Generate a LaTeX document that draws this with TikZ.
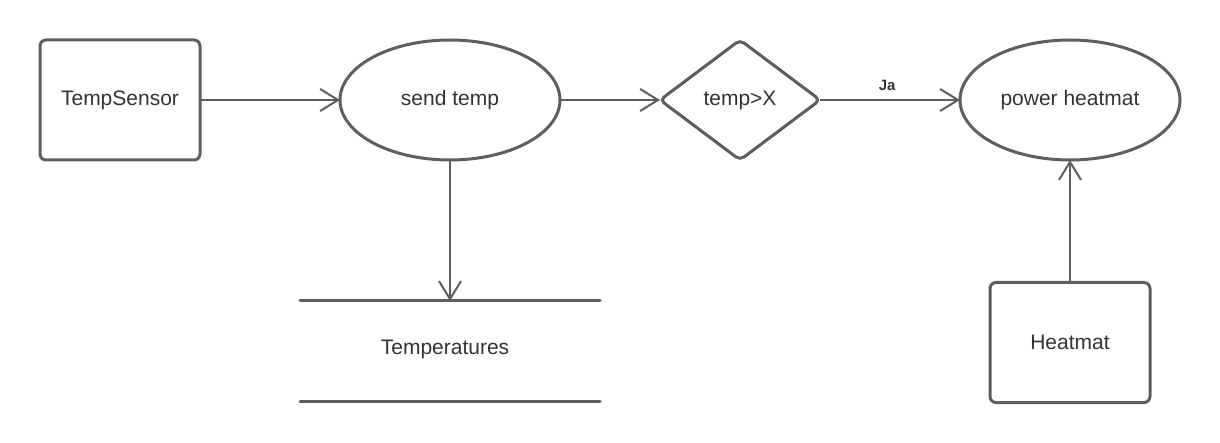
\documentclass[tikz,border=0pt]{standalone}
\usepackage{fontspec}
\setmainfont{Liberation Sans}
\usetikzlibrary{shapes.geometric,arrows.meta}
\definecolor{edge}{HTML}{5E5E5E}
\definecolor{txt}{HTML}{333333}
\begin{document}
\begin{tikzpicture}[x=1pt,y=-1pt,
  every node/.style={font=\fontsize{21}{25}\selectfont, text=txt, outer sep=0pt, inner sep=0pt},
  boxnode/.style={draw=edge, line width=3pt, rounded corners=6pt, minimum width=160pt, minimum height=120pt},
  ellnode/.style={ellipse, draw=edge, line width=3pt, minimum width=220pt, minimum height=120pt},
  decnode/.style={diamond, draw=edge, line width=3pt, rounded corners=5pt, minimum width=160pt, minimum height=120pt, aspect=1.333},
  storenode/.style={minimum width=300pt, minimum height=100pt},
  arr/.style={draw=edge, line width=2pt, -{Straight Barb[length=18pt,width=22pt,line width=2pt]}},
  lbl/.style={font=\bfseries\fontsize{15}{17}\selectfont}
]
\useasboundingbox (0,0) rectangle (1220,443);
\node[boxnode] (ts) at (120,100) {TempSensor};
\node[ellnode] (st) at (450,100) {send temp};
\node[decnode] (dec) at (740,100) {temp>X};
\node[ellnode] (ph) at (1070,100) {power heatmat};
\node[boxnode] (hm) at (1070,342.5) {Heatmat};
\node[storenode] (temps) at (450,351) {};
\node at (445,349) {Temperatures};
\draw[edge, line width=3pt, line cap=round] (temps.north west) -- (temps.north east);
\draw[edge, line width=3pt, line cap=round] (temps.south west) -- (temps.south east);
\draw[arr] (ts) -- (st);
\draw[arr] (st) -- (dec);
\draw[arr] (dec) -- node[lbl, above=9pt, pos=0.48] {Ja} (ph);
\draw[arr] (st.south) -- (temps.north);
\draw[arr] (hm.north) -- (ph.south);
\end{tikzpicture}
\end{document}
